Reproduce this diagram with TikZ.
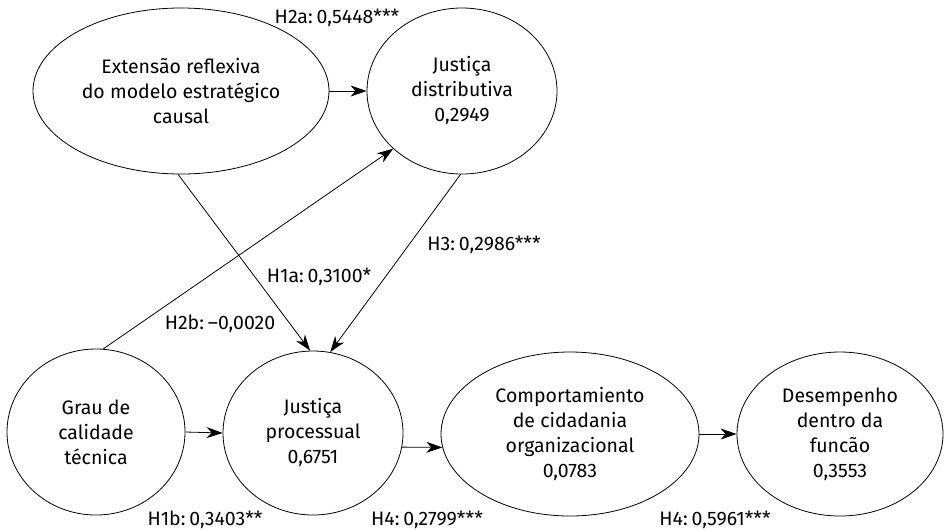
\documentclass[tikz,border=0pt]{standalone}
\usepackage{fontspec}
\setmainfont{Fira Sans}
\usetikzlibrary{shapes.geometric,arrows.meta}
\begin{document}
\begin{tikzpicture}[x=1pt,y=-1pt,
  lat/.style={draw, ellipse, inner sep=0pt, align=center, line width=0.8pt,
    font=\fontsize{19.5}{25}\selectfont},
  conn/.style={-{Stealth[length=16pt,width=11pt,inset=5pt]}, line width=0.8pt},
  lbl/.style={inner sep=0pt, font=\fontsize{19.5}{25}\selectfont}]
\useasboundingbox (0,0) rectangle (952,531);
\node[lat, minimum width=296pt, minimum height=166pt] (ext) at (181,91) {Extensão reflexiva\\do modelo estratégico\\causal};
\node[lat, minimum width=190pt, minimum height=166pt] (dist) at (462,91) {Justiça\\distributiva\\0,2949};
\node[lat, minimum width=178pt, minimum height=166pt] (grau) at (96,432) {Grau de\\calidade\\técnica};
\node[lat, minimum width=180pt, minimum height=164pt] (proc) at (313,433) {Justiça\\processual\\0,6751};
\node[lat, minimum width=258pt, minimum height=164pt] (comp) at (570,434) {Comportamiento\\de cidadania\\organizacional\\0,0783};
\node[lat, minimum width=206pt, minimum height=164pt] (des) at (840,434) {Desempenho\\dentro da\\funcão\\0,3553};

\draw[conn] (ext.east) -- (dist.west);
\draw[conn] (grau.east) -- (proc.west);
\draw[conn] (proc.-9) -- (comp.186);
\draw[conn] (comp.east) -- (des.west);
\draw[conn] (ext.268) -- (proc.92);
\draw[conn] (dist.269) -- (proc.78);
\draw[conn] (grau.85) -- (dist.220.6);

\node[lbl] (l2a) at (337,18) {H2a:\hspace{0.2em}0,5448***};
\node[lbl] (l1a) at (319,277) {H1a:\hspace{0.2em}0,3100*};
\node[lbl] (l2b) at (220,324) {H2b:\hspace{0.2em}–0,0020};
\node[lbl] (l3) at (484,245) {H3:\hspace{0.2em}0,2986***};
\node[lbl] (l1b) at (205,520) {H1b:\hspace{0.2em}0,3403**};
\node[lbl] (l4a) at (427,520) {H4:\hspace{0.2em}0,2799***};
\node[lbl] (l4b) at (715,520) {H4:\hspace{0.2em}0,5961***};
\end{tikzpicture}
\end{document}
